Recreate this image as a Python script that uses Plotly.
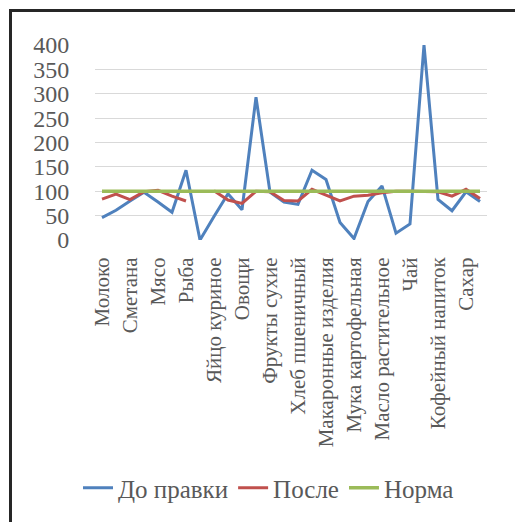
import plotly.graph_objects as go

# Category positions (28 categories; every second one is labelled)
tick_labels = ["Молоко", "Сметана", "Мясо", "Рыба", "Яйцо куриное", "Овощи",
               "Фрукты сухие", "Хлеб пшеничный", "Макаронные изделия",
               "Мука картофельная", "Масло растительное", "Чай",
               "Кофейный напиток", "Сахар"]
n_categories = 28
x_idx = list(range(n_categories))
tick_positions = list(range(0, n_categories, 2))

do_pravki = [46, 61, 80, 98, 78, 57, 143, 0, 48, 95, 62, 293, 98, 78,
             73, 143, 124, 36, 3, 79, 111, 14, 33, 400, 83, 60, 99, 79]
posle = [84, 94, 83, 99, 102, 90, 80, None, 101, 82, 75, 100, 99, 81,
         80, 104, 92, 80, 90, 92, 97, 100, 100, 100, 99, 90, 104, 85]
norma = [100] * n_categories

y_ticks = [0, 50, 100, 150, 200, 250, 300, 350, 400]

FONT = "Liberation Serif"
TXT = "#595959"

fig = go.Figure()
fig.add_trace(go.Scatter(x=x_idx, y=do_pravki, mode="lines", name="До правки",
                         line=dict(color="#4F81BD", width=3)))
fig.add_trace(go.Scatter(x=x_idx, y=posle, mode="lines", name="После",
                         line=dict(color="#C0504D", width=3), connectgaps=False))
fig.add_trace(go.Scatter(x=x_idx, y=norma, mode="lines", name="Норма",
                         line=dict(color="#9BBB59", width=3.5)))

fig.update_layout(
    width=515, height=522,
    margin=dict(l=95, r=28, t=45, b=281.5, autoexpand=False),
    paper_bgcolor="white", plot_bgcolor="white",
    font=dict(family=FONT, color=TXT, size=24),
    showlegend=True,
    legend=dict(orientation="h", xref="container", yref="container",
                x=268.5 / 515, xanchor="center", y=1 - 488 / 522, yanchor="middle",
                font=dict(family=FONT, size=25, color=TXT),
                itemwidth=30, tracegroupgap=0),
    xaxis=dict(range=[-0.5, n_categories - 0.5], tickmode="array",
               tickvals=tick_positions, ticktext=tick_labels, tickangle=-90,
               showgrid=False, zeroline=False, showline=False, automargin=False,
               ticks="outside", ticklen=8, tickcolor="rgba(0,0,0,0)",
               tickfont=dict(family=FONT, size=21, color=TXT), fixedrange=True),
    yaxis=dict(range=[0, 400], tickmode="array", tickvals=y_ticks,
               showgrid=True, gridcolor="#D9D9D9", gridwidth=1,
               zeroline=False, showline=False, automargin=False,
               ticks="outside", ticklen=20, tickcolor="rgba(0,0,0,0)",
               tickfont=dict(family=FONT, size=24, color=TXT), fixedrange=True),
    shapes=[dict(type="rect", xref="paper", yref="paper",
                 x0=(10.5 - 95) / 392, x1=(530 - 95) / 392,
                 y0=(240.5 - 10.5) / 195.5, y1=(240.5 - 540) / 195.5,
                 line=dict(color="#262626", width=3), fillcolor="rgba(0,0,0,0)",
                 layer="above")],
)

fig.write_html("out.html", config={"displayModeBar": False},
               post_script="document.body.style.margin='0';document.body.style.overflow='hidden';")
